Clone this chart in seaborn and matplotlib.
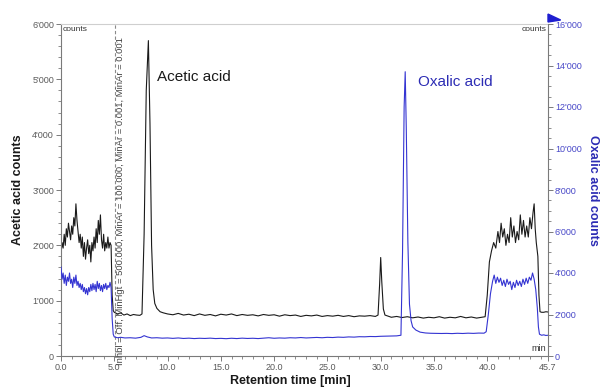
import numpy as np
import pandas as pd
import seaborn as sns
import matplotlib.pyplot as plt
from matplotlib.ticker import FuncFormatter, MultipleLocator
from matplotlib.patches import Polygon
import matplotlib.transforms as mtransforms

# ---------------- data ----------------
acetic_time = [
    0.0, 0.1, 0.2, 0.3, 0.4, 0.5, 0.6, 0.7, 0.8, 0.9, 1.0, 1.1, 1.2, 1.3, 1.4, 1.5,
    1.6, 1.7, 1.8, 1.9, 2.0, 2.1, 2.2, 2.3, 2.4, 2.5, 2.6, 2.7, 2.8, 2.9, 3.0, 3.1,
    3.2, 3.3, 3.4, 3.5, 3.6, 3.7, 3.8, 3.9, 4.0, 4.1, 4.2, 4.3, 4.4, 4.5, 4.6, 4.7,
    4.8, 4.9, 5.0, 5.3, 5.6, 5.9, 6.2, 6.5, 6.8, 7.1, 7.4, 7.6, 7.8, 8.0, 8.2, 8.35,
    8.5, 8.65, 8.8, 9.0, 9.3, 9.6, 10.0, 10.5, 11.0, 11.5, 12.0, 12.5, 13.0, 13.5,
    14.0, 14.5, 15.0, 15.5, 16.0, 16.5, 17.0, 17.5, 18.0, 18.5, 19.0, 19.5, 20.0,
    20.5, 21.0, 21.5, 22.0, 22.5, 23.0, 23.5, 24.0, 24.5, 25.0, 25.5, 26.0, 26.5,
    27.0, 27.5, 28.0, 28.5, 29.0, 29.5, 29.75, 29.9, 30.0, 30.1, 30.25, 30.4, 30.7,
    31.0, 31.5, 32.0, 32.5, 33.0, 33.5, 34.0, 34.5, 35.0, 35.5, 36.0, 36.5, 37.0,
    37.5, 38.0, 38.5, 39.0, 39.5, 39.8, 40.0, 40.2, 40.4, 40.6, 40.8, 41.0, 41.15,
    41.3, 41.45, 41.6, 41.75, 41.9, 42.05, 42.2, 42.35, 42.5, 42.65, 42.8, 42.95,
    43.1, 43.25, 43.4, 43.55, 43.7, 43.85, 44.0, 44.15, 44.3, 44.4, 44.5, 44.6,
    44.75, 44.85, 44.95, 45.1, 45.3, 45.5, 45.7,
]
acetic_counts = [
    1850, 2050, 1950, 2200, 2000, 2300, 2150, 2400, 2250, 2100, 2350, 2200, 2500, 2350, 2750, 2450,
    2250, 2050, 2200, 1950, 2150, 1800, 2050, 1750, 1950, 2100, 1850, 2000, 1700, 2050, 1900, 2150,
    1950, 2300, 2050, 2450, 2200, 2550, 2100, 1950, 2200, 1900, 2050, 1950, 2150, 1950, 2050, 2000,
    1100, 820, 790, 760, 780, 740, 760, 730, 750, 740, 735, 760, 2200, 4800, 5700, 4200,
    2000, 1200, 950, 860, 800, 780, 760, 745, 770, 740, 755, 730, 760, 735,
    750, 725, 755, 740, 760, 730, 750, 735, 745, 725, 750, 735, 745,
    720, 745, 730, 740, 715, 735, 725, 740, 715, 730, 720, 735, 715,
    730, 710, 725, 720, 730, 715, 740, 1300, 1780, 1350, 850, 740, 720,
    700, 715, 695, 710, 690, 705, 685, 700, 690, 710, 685, 700, 690,
    715, 690, 705, 685, 700, 710, 1100, 1700, 1900, 2050, 1950, 2250, 2050,
    2400, 2150, 2300, 2000, 2200, 2050, 2500, 2150, 2350, 2050, 2250, 2100,
    2550, 2200, 2450, 2150, 2350, 2150, 2500, 2300, 2600, 2750, 2300, 2050,
    1800, 1100, 800, 790, 790, 800, 795,
]

oxalic_time = [
    0.0, 0.1, 0.2, 0.3, 0.4, 0.5, 0.6, 0.7, 0.8, 0.9, 1.0, 1.1, 1.2, 1.3, 1.4, 1.5,
    1.6, 1.7, 1.8, 1.9, 2.0, 2.1, 2.2, 2.3, 2.4, 2.5, 2.6, 2.7, 2.8, 2.9, 3.0, 3.1,
    3.2, 3.3, 3.4, 3.5, 3.6, 3.7, 3.8, 3.9, 4.0, 4.1, 4.2, 4.3, 4.4, 4.5, 4.6, 4.7,
    4.8, 4.9, 5.0, 5.3, 5.6, 6.0, 6.5, 7.0, 7.5, 7.8, 8.1, 8.5, 9.0, 9.5, 10.0,
    10.5, 11.0, 11.5, 12.0, 12.5, 13.0, 13.5, 14.0, 14.5, 15.0, 15.5, 16.0, 16.5,
    17.0, 17.5, 18.0, 18.5, 19.0, 19.5, 20.0, 20.5, 21.0, 21.5, 22.0, 22.5, 23.0,
    23.5, 24.0, 24.5, 25.0, 25.5, 26.0, 26.5, 27.0, 27.5, 28.0, 28.5, 29.0, 29.5,
    30.0, 30.5, 31.0, 31.5, 31.9, 32.05, 32.2, 32.3, 32.4, 32.55, 32.7, 32.85, 33.0,
    33.3, 33.7, 34.2, 34.7, 35.2, 35.7, 36.2, 36.7, 37.2, 37.7, 38.2, 38.7, 39.2,
    39.7, 39.9, 40.1, 40.3, 40.5, 40.65, 40.8, 40.95, 41.1, 41.25, 41.4, 41.55,
    41.7, 41.85, 42.0, 42.15, 42.3, 42.45, 42.6, 42.75, 42.9, 43.05, 43.2, 43.35,
    43.5, 43.65, 43.8, 43.95, 44.1, 44.25, 44.4, 44.55, 44.7, 44.8, 44.9, 45.1,
    45.3, 45.5, 45.7,
]
oxalic_counts = [
    4300, 3700, 4000, 3500, 3900, 3400, 3800, 3600, 4000, 3500, 3700, 3300, 3800, 3500, 3900, 3400,
    3600, 3300, 3500, 3200, 3450, 3100, 3300, 3000, 3250, 2950, 3300, 3100, 3450, 3150, 3500, 3200,
    3450, 3100, 3600, 3250, 3500, 3150, 3400, 3100, 3450, 3250, 3500, 3200, 3400, 3300, 3550, 3300,
    1800, 1050, 920, 880, 900, 870, 880, 860, 900, 980, 920, 870, 880, 860, 870,
    850, 870, 845, 860, 840, 855, 845, 860, 840, 850, 835, 855, 840,
    860, 845, 855, 840, 860, 880, 855, 870, 860, 880, 870, 890, 870,
    880, 895, 880, 900, 890, 910, 900, 920, 910, 930, 925, 940, 935,
    950, 955, 960, 970, 1000, 5000, 12000, 13700, 11000, 5500, 2500, 1700, 1400,
    1250, 1150, 1110, 1095, 1090, 1085, 1090, 1080, 1095, 1085, 1100, 1090, 1105,
    1100, 1170, 2000, 3000, 3600, 3900, 3500, 3800, 3550, 3750, 3400, 3650,
    3350, 3700, 3450, 3600, 3200, 3550, 3300, 3650, 3400, 3600, 3350, 3700,
    3450, 3750, 3500, 3800, 3650, 4000, 3700, 3200, 2300, 1400, 1050, 1000,
    1020, 990, 1000,
]

x_ticks = [0.0, 5.0, 10.0, 15.0, 20.0, 25.0, 30.0, 35.0, 40.0, 45.7]
left_ticks = [0, 1000, 2000, 3000, 4000, 5000, 6000]
right_ticks = [0, 2000, 4000, 6000, 8000, 10000, 12000, 14000, 16000]

df_a = pd.DataFrame({"time": acetic_time, "counts": acetic_counts})
df_o = pd.DataFrame({"time": oxalic_time, "counts": oxalic_counts})

# ---------------- style ----------------
sns.set_theme(style="ticks")
plt.rcParams['font.family'] = ['Liberation Sans', 'DejaVu Sans']

BLACK = "#1a1a1a"
BLUE = "#3434d2"
BLUE_TXT = "#2c2cb4"
GRAY = "#7a7a7a"
TICK_TXT = "#5a5a5a"

fig = plt.figure(figsize=(6.04, 3.92), dpi=100)
ax = fig.add_axes([61 / 604, 36 / 392, 487 / 604, 332 / 392])
ax2 = ax.twinx()

sns.lineplot(data=df_a, x="time", y="counts", ax=ax, color=BLACK, lw=0.8,
             estimator=None, sort=False)
sns.lineplot(data=df_o, x="time", y="counts", ax=ax2, color=BLUE, lw=0.8,
             estimator=None, sort=False)

ax.set_xlim(0, 45.7)
ax.set_ylim(0, 6000)
ax2.set_ylim(0, 16000)

fmt_thousands = FuncFormatter(lambda v, p: f"{int(round(v)):,}".replace(",", "'"))

ax.set_xticks(x_ticks)
ax.set_xticklabels([f"{t:.1f}" for t in x_ticks])
ax.xaxis.set_minor_locator(MultipleLocator(1.0))
ax.set_yticks(left_ticks)
ax.yaxis.set_major_formatter(fmt_thousands)
ax.yaxis.set_minor_locator(MultipleLocator(200))
ax2.set_yticks(right_ticks)
ax2.yaxis.set_major_formatter(fmt_thousands)
ax2.yaxis.set_minor_locator(MultipleLocator(500))

ax.tick_params(axis="both", which="major", direction="out", length=3.5, width=0.7,
               color=GRAY, labelcolor=TICK_TXT, labelsize=6.5, pad=1.5)
ax.tick_params(axis="both", which="minor", direction="out", length=2, width=0.6,
               color=GRAY)
ax2.tick_params(axis="y", which="major", direction="out", length=3.5, width=0.7,
                color=GRAY, labelcolor="#4848c8", labelsize=6.5, pad=1.5)
ax2.tick_params(axis="y", which="minor", direction="out", length=2, width=0.6,
                color=GRAY)

for sp in ["left", "bottom"]:
    ax.spines[sp].set_color(GRAY)
    ax.spines[sp].set_linewidth(0.8)
ax.spines["right"].set_visible(False)
ax.spines["top"].set_color("#cfcfcf")
ax.spines["top"].set_linewidth(0.8)
for sp in ["left", "bottom", "top"]:
    ax2.spines[sp].set_visible(False)
ax2.spines["right"].set_color(GRAY)
ax2.spines["right"].set_linewidth(0.8)

ax.set_xlabel("Retention time [min]", fontsize=9, fontweight="bold", color=BLACK)
ax.xaxis.set_label_coords(0.47, -0.058)
ax.set_ylabel("Acetic acid counts", fontsize=9, fontweight="bold", color=BLACK,
              va="center")
ax.yaxis.set_label_coords(-0.088, 0.5)
ax2.set_ylabel("Oxalic acid counts", fontsize=9, fontweight="bold", color=BLUE_TXT,
               rotation=270, va="center")
ax2.yaxis.set_label_coords(1.092, 0.5)

# peak labels
ax.text(9.0, 5040, "Acetic acid", fontsize=11, color=BLACK, va="center", ha="left")
ax.text(33.5, 4950, "Oxalic acid", fontsize=11, color=BLUE_TXT, va="center", ha="left")

# unit labels inside the frame
ax.text(0.004, 0.995, "counts", transform=ax.transAxes, fontsize=6, color="#333333",
        ha="left", va="top")
ax.text(0.996, 0.995, "counts", transform=ax.transAxes, fontsize=6, color="#333333",
        ha="right", va="top")
ax.text(0.996, 0.008, "min", transform=ax.transAxes, fontsize=6.5, color="#333333",
        ha="right", va="bottom")

# integration-start marker
ax.axvline(5.1, color="#8a8a8a", lw=0.8, ls=(0, (3, 2)))
blend = mtransforms.blended_transform_factory(ax.transData, ax.transAxes)
ax.text(5.55, -0.027,
        "Inhbl = Off, MinHgt = 500.000, MinAr = 100.000, MinAr = 0.001, MinAr = 0.001",
        transform=blend, rotation=90, fontsize=6.8, color="#444444",
        ha="center", va="bottom", clip_on=False)

# blue flag on top of the right axis
flag = Polygon([[1.0, 1.006], [1.0, 1.03], [1.026, 1.012]], closed=True,
               transform=ax2.transAxes, color="#1f1fd0", clip_on=False)
ax2.add_patch(flag)

fig.savefig("out.png", dpi=100, facecolor="white")
